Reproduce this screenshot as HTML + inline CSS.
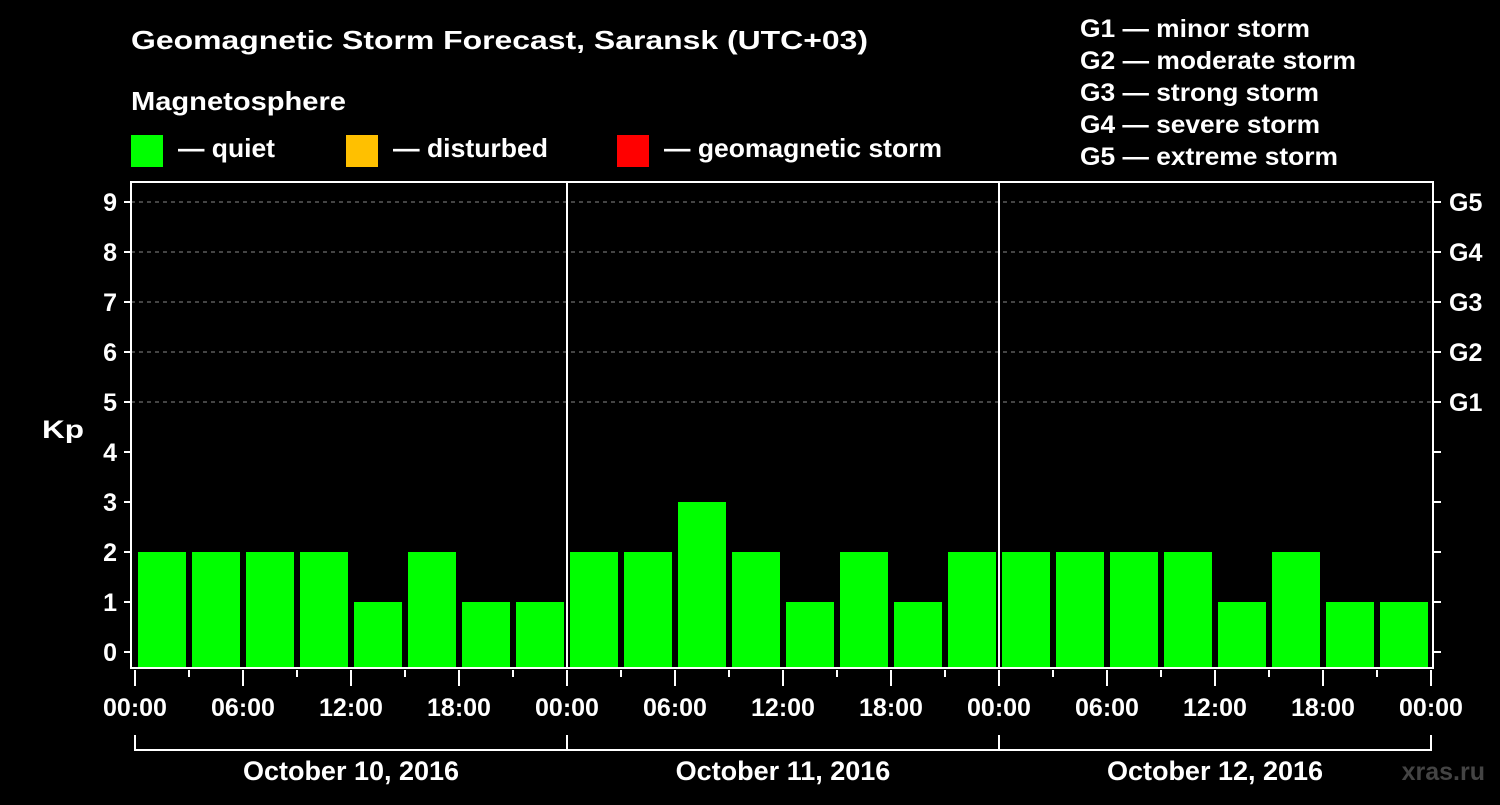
<!DOCTYPE html>
<html><head><meta charset="utf-8"><style>
body{margin:0;background:#000;width:1500px;height:800px;overflow:hidden}
svg text{font-family:"Liberation Sans",Arial,sans-serif;font-weight:bold;fill:#fff}
</style></head><body>
<svg id="c" width="1500" height="800" viewBox="0 0 1500 800" xmlns="http://www.w3.org/2000/svg">
<rect width="1500" height="800" fill="#000"/>
<text x="131" y="49" font-size="26" textLength="737" lengthAdjust="spacingAndGlyphs">Geomagnetic Storm Forecast, Saransk (UTC+03)</text>
<text x="131" y="110" font-size="26" textLength="215" lengthAdjust="spacingAndGlyphs">Magnetosphere</text>
<g><rect x="131" y="135" width="32" height="32" fill="#00ff00"/><text x="178" y="157" font-size="26" textLength="97" lengthAdjust="spacingAndGlyphs">— quiet</text></g>
<g><rect x="346" y="135" width="32" height="32" fill="#ffc000"/><text x="393" y="157" font-size="26" textLength="155" lengthAdjust="spacingAndGlyphs">— disturbed</text></g>
<g><rect x="617" y="135" width="32" height="32" fill="#ff0000"/><text x="664" y="157" font-size="26" textLength="278" lengthAdjust="spacingAndGlyphs">— geomagnetic storm</text></g>
<g font-size="25">
<text x="1080" y="37" textLength="230" lengthAdjust="spacingAndGlyphs">G1 — minor storm</text>
<text x="1080" y="69" textLength="276" lengthAdjust="spacingAndGlyphs">G2 — moderate storm</text>
<text x="1080" y="101" textLength="239" lengthAdjust="spacingAndGlyphs">G3 — strong storm</text>
<text x="1080" y="133" textLength="240" lengthAdjust="spacingAndGlyphs">G4 — severe storm</text>
<text x="1080" y="165" textLength="258" lengthAdjust="spacingAndGlyphs">G5 — extreme storm</text>
</g>
<text x="42" y="438" font-size="25" textLength="42" lengthAdjust="spacingAndGlyphs">Kp</text>
<text x="1485" y="780" font-size="25" text-anchor="end" style="fill:#444">xras.ru</text>
<g id="grid"></g><g id="bars"></g><g id="axes"></g>
</svg>
<script>
const days=["October 10, 2016","October 11, 2016","October 12, 2016"];
const kpValues=[2,2,2,2,1,2,1,1, 2,2,3,2,1,2,1,2, 2,2,2,2,1,2,1,1];
const yTicks=[0,1,2,3,4,5,6,7,8,9];
const gLabels=["G1","G2","G3","G4","G5"];
const gLevels=[5,6,7,8,9];
const hourLabels=["00:00","06:00","12:00","18:00"];
const NS="http://www.w3.org/2000/svg";
const x0=135,slot=54,pLeft=131,pRight=1433,pTop=182,pBottom=668;
const yS=v=>652-50*v;
const xs=i=>x0+slot*i;
function mk(t,a,p){const e=document.createElementNS(NS,t);for(const k in a)e.setAttribute(k,a[k]);p.appendChild(e);return e;}
const G=document.getElementById('grid'),B=document.getElementById('bars'),A=document.getElementById('axes');
gLevels.forEach((l,i)=>{
 const ln=mk('line',{x1:pLeft,x2:pRight,y1:yS(l),y2:yS(l),stroke:'#888','stroke-dasharray':'4 4','stroke-width':1},G);
 
 
 const t=mk('text',{x:1449,y:yS(l)+9,'font-size':25},A);t.textContent=gLabels[i];
 
 
});
kpValues.forEach((v,i)=>{
 const r=mk('rect',{x:xs(i)+3,y:yS(v),width:48,height:pBottom-1-yS(v),fill:'#00ff00'},B);
 
 
});
const frame=mk('path',{d:`M${pLeft} ${pTop}H${pRight}V${pBottom}H${pLeft}Z`,fill:'none',stroke:'#fff','stroke-width':2},A);


for(let d=1;d<days.length;d++){mk('line',{x1:xs(8*d),x2:xs(8*d),y1:pTop,y2:pBottom,stroke:'#fff','stroke-width':2},A);}
yTicks.forEach(v=>{
 mk('line',{x1:124,x2:pLeft,y1:yS(v),y2:yS(v),stroke:'#fff','stroke-width':2},A);
 mk('line',{x1:pRight,x2:1441,y1:yS(v),y2:yS(v),stroke:'#fff','stroke-width':2},A);
 const t=mk('text',{x:117,y:yS(v)+9,'font-size':25,'text-anchor':'end'},A);t.textContent=v;
 
 
});
for(let i=0;i<=kpValues.length;i++){
 const major=i%2===0;
 mk('line',{x1:xs(i),x2:xs(i),y1:670,y2:major?686:677,stroke:'#fff','stroke-width':2},A);
 if(major){const t=mk('text',{x:xs(i),y:716,'font-size':25,'text-anchor':'middle'},A);t.textContent=hourLabels[(i/2)%4];
 
 }
}
mk('path',{d:`M${xs(0)} 735V750H${xs(24)}V735`,fill:'none',stroke:'#fff','stroke-width':2},A);
days.forEach((d,i)=>{
 mk('line',{x1:xs(8*i),x2:xs(8*i),y1:735,y2:750,stroke:'#fff','stroke-width':2},A);
 const t=mk('text',{x:xs(8*i+4),y:780,'font-size':27,'text-anchor':'middle'},A);t.textContent=d;
 
 
});
</script>
</body></html>
